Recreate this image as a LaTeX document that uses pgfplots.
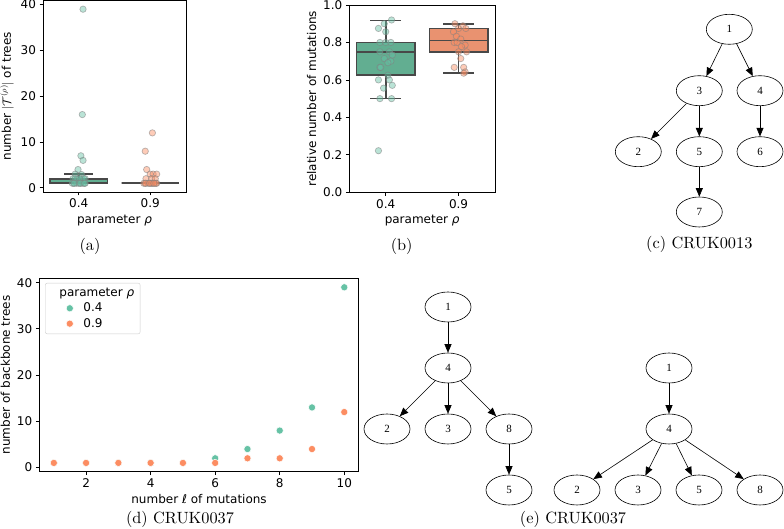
\documentclass[border=0pt]{standalone}
\usepackage{fontspec}
\usepackage{pgfplots}
\pgfplotsset{compat=1.18}
\usepgfplotslibrary{statistics}
\usetikzlibrary{shapes.geometric,arrows.meta}

\newfontfamily\dejavu{DejaVu Sans}
\newfontfamily\timesf{Liberation Serif}
\newfontfamily\capfont{lmroman10-regular}[Extension=.otf]
\newcommand\axfont{\dejavu\fontsize{12}{14}\selectfont}

% Set2 palette and its desaturated box shades
\definecolor{setgreen}{RGB}{102,194,165}
\definecolor{setorange}{RGB}{252,141,98}
\definecolor{boxgreen}{RGB}{98,174,145}
\definecolor{boxorange}{RGB}{233,146,112}
\definecolor{boxedge}{RGB}{72,72,72}

\pgfplotsset{
  panel/.style={
    scale only axis, anchor=south west,
    font=\axfont,
    tick label style={font=\axfont},
    label style={font=\axfont},
    /pgf/number format/assume math mode=true,
    tick align=outside, xtick pos=bottom, ytick pos=left,
    major tick length=3.5pt,
    every tick/.style={black, line width=0.8pt},
    axis line style={line width=0.8pt},
  },
  catpanel/.style={panel, xmin=-0.5, xmax=1.5, xtick={0,1},
    xticklabels={0.4,0.9}, xlabel={parameter \textit{ρ}}},
  boxstyle/.style={boxplot/draw direction=y, draw=boxedge,
    line width=1.6pt, solid, mark=none},
  strip/.style={only marks, mark=*, mark size=3.2pt,
    mark options={fill=#1, fill opacity=0.45, draw=gray,
      draw opacity=0.55, line width=0.7pt}},
}

\tikzset{
  gv/.style={ellipse, draw, line width=0.6pt, minimum width=46pt,
    minimum height=30pt, inner sep=0pt,
    font=\timesf\fontsize{11}{13}\selectfont},
  gvedge/.style={-{Triangle[length=8.5pt,width=7pt]}, line width=0.6pt},
  subcap/.style={font=\capfont\fontsize{16.3}{19}\selectfont},
}

\begin{document}
\begin{tikzpicture}
\path[use as bounding box] (0pt,0pt) rectangle (784pt,529pt);

% ---------------- (a) number of trees ----------------
\begin{axis}[catpanel, at={(43pt,337pt)}, width=143pt, height=191.5pt,
  ymin=-0.9, ymax=40.9, ytick={0,10,20,30,40},
  ylabel={number $|\mathcal{T}^{(\rho)}|$ of trees}]
\addplot[boxstyle, fill=boxgreen, boxplot prepared={draw position=0,
  lower whisker=1, lower quartile=1, median=2, upper quartile=2,
  upper whisker=3, box extend=0.8, whisker extend=0.4}] coordinates {};
\addplot[boxstyle, fill=boxorange, boxplot prepared={draw position=1,
  lower whisker=1, lower quartile=1, median=1, upper quartile=1,
  upper whisker=1, box extend=0.8, whisker extend=0.4}] coordinates {};
\addplot[strip=setgreen] coordinates {
  (0.06,39) (0.05,16) (0.03,7) (0.06,6) (-0.01,4) (-0.05,3)
  (0.04,2.9) (-0.08,2) (-0.02,2) (0.04,2) (0.09,2) (-0.05,2) (0.07,2)
  (0.01,2) (-0.09,1) (-0.06,1) (-0.03,1) (0.00,1) (0.03,1) (0.06,1)
  (0.09,1) (-0.07,1) (0.02,1) (0.08,1)};
\addplot[strip=setorange] coordinates {
  (1.03,12) (0.93,8) (0.95,4) (1.00,3) (1.04,3) (1.09,3)
  (0.94,2) (1.02,2) (1.07,2) (0.91,1) (0.94,1) (0.97,1) (1.00,1)
  (1.03,1) (1.06,1) (1.09,1) (0.93,1) (1.02,1) (1.08,1) (0.99,1)
  (1.05,1)};
\end{axis}
\node[subcap] at (90pt,283pt) {(a)};

% ---------------- (b) relative number of mutations ----------------
\begin{axis}[catpanel, at={(349.3pt,336.7pt)}, width=145.7pt, height=187.3pt,
  ymin=0, ymax=1, ytick={0,0.2,0.4,0.6,0.8,1.0},
  yticklabel style={/pgf/number format/.cd, fixed, fixed zerofill, precision=1},
  ylabel={relative number of mutations}]
\addplot[boxstyle, fill=boxgreen, boxplot prepared={draw position=0,
  lower whisker=0.5, lower quartile=0.625, median=0.75, upper quartile=0.8,
  upper whisker=0.917, box extend=0.8, whisker extend=0.42}] coordinates {};
\addplot[boxstyle, fill=boxorange, boxplot prepared={draw position=1,
  lower whisker=0.636, lower quartile=0.75, median=0.81, upper quartile=0.875,
  upper whisker=0.9, box extend=0.8, whisker extend=0.42}] coordinates {};
\addplot[strip=setgreen] coordinates {
  (0.08,0.92) (-0.02,0.9) (-0.10,0.875) (0.00,0.857) (-0.08,0.8)
  (0.00,0.8) (0.07,0.8) (-0.08,0.75) (0.05,0.75) (0.09,0.733)
  (-0.02,0.714) (0.07,0.7) (0.03,0.692) (-0.08,0.667) (-0.07,0.667)
  (0.03,0.625) (-0.10,0.6) (0.05,0.6) (0.09,0.571) (-0.03,0.556)
  (-0.08,0.5) (0.08,0.5) (-0.10,0.222)};
\addplot[strip=setorange] coordinates {
  (0.95,0.9) (1.06,0.889) (1.00,0.875) (0.93,0.857) (1.10,0.875)
  (0.97,0.833) (1.03,0.818) (0.94,0.8) (1.09,0.786) (0.98,0.8)
  (1.04,0.778) (1.00,0.75) (1.11,0.75) (1.03,0.714) (0.94,0.667)
  (1.07,0.667) (1.09,0.643) (1.07,0.636)};
\end{axis}
\node[subcap] at (401.7pt,283pt) {(b)};

% ---------------- (c) tree CRUK0013 ----------------
\node[gv] (c1) at (729.3pt,499.7pt) {1};
\node[gv] (c3) at (699.3pt,438.3pt) {3};
\node[gv] (c4) at (760pt,438.3pt) {4};
\node[gv] (c2) at (638.3pt,377.3pt) {2};
\node[gv] (c5) at (699.3pt,377.3pt) {5};
\node[gv] (c6) at (760pt,377.3pt) {6};
\node[gv] (c7) at (699.3pt,317pt) {7};
\draw[gvedge] (c1) -- (c3);
\draw[gvedge] (c1) -- (c4);
\draw[gvedge] (c3) -- (c2);
\draw[gvedge] (c3) -- (c5);
\draw[gvedge] (c4) -- (c6);
\draw[gvedge] (c5) -- (c7);
\node[subcap] at (699.3pt,285pt) {(c) CRUK0013};

% ---------------- (d) backbone trees per number of mutations ----------------
\begin{axis}[panel, at={(39.3pt,57.3pt)}, width=319.5pt, height=193.2pt,
  xmin=0.55, xmax=10.45, xtick={2,4,6,8,10},
  ymin=-0.9, ymax=40.9, ytick={0,10,20,30,40},
  xlabel={number \textit{ℓ} of mutations},
  ylabel={number of backbone trees},
  legend cell align=left,
  legend style={at={(0.018,0.977)}, anchor=north west, draw=black!20,
    rounded corners=2pt, font=\axfont,
    row sep=1pt, inner xsep=4pt, inner ysep=3pt}]
\addlegendimage{empty legend}
\addlegendentry{\hspace*{-16pt}parameter \textit{ρ}}
\addplot[only marks, mark=*, mark size=3.6pt,
  legend image post style={xshift=12pt},
  mark options={fill=setgreen, draw=white, line width=0.5pt}] coordinates {
  (1,1) (2,1) (3,1) (4,1) (5,1) (6,2) (7,4) (8,8) (9,13) (10,39)};
\addlegendentry{\hspace*{8pt}0.4}
\addplot[only marks, mark=*, mark size=3.6pt,
  legend image post style={xshift=12pt},
  mark options={fill=setorange, draw=white, line width=0.5pt}] coordinates {
  (1,1) (2,1) (3,1) (4,1) (5,1) (6,1) (7,2) (8,2) (9,4) (10,12)};
\addlegendentry{\hspace*{8pt}0.9}
\end{axis}
\node[subcap] at (180pt,10pt) {(d) CRUK0037};

% ---------------- (e) trees CRUK0037 ----------------
\node[gv] (a1) at (448pt,222pt) {1};
\node[gv] (a4) at (448pt,161pt) {4};
\node[gv] (a2) at (387pt,100pt) {2};
\node[gv] (a3) at (448pt,100pt) {3};
\node[gv] (a8) at (509pt,100pt) {8};
\node[gv] (a5) at (509pt,39pt) {5};
\draw[gvedge] (a1) -- (a4);
\draw[gvedge] (a4) -- (a2);
\draw[gvedge] (a4) -- (a3);
\draw[gvedge] (a4) -- (a8);
\draw[gvedge] (a8) -- (a5);

\node[gv] (b1) at (669pt,161pt) {1};
\node[gv] (b4) at (669pt,100pt) {4};
\node[gv] (b2) at (577pt,39pt) {2};
\node[gv] (b3) at (638pt,39pt) {3};
\node[gv] (b5) at (699pt,39pt) {5};
\node[gv] (b8) at (760pt,39pt) {8};
\draw[gvedge] (b1) -- (b4);
\draw[gvedge] (b4) -- (b2);
\draw[gvedge] (b4) -- (b3);
\draw[gvedge] (b4) -- (b5);
\draw[gvedge] (b4) -- (b8);
\node[subcap] at (573pt,10pt) {(e) CRUK0037};
\end{tikzpicture}
\end{document}
